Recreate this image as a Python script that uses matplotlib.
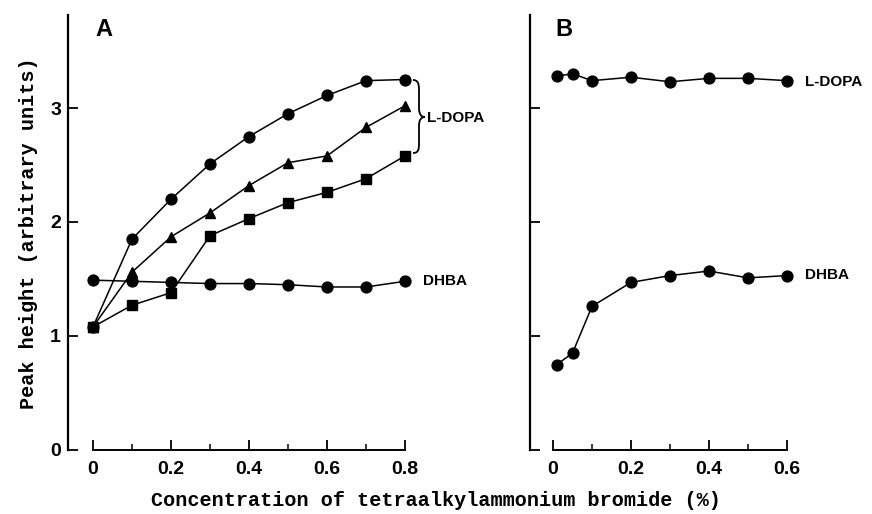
import matplotlib
matplotlib.use("Agg")
import matplotlib.pyplot as plt
from matplotlib.path import Path
from matplotlib.patches import PathPatch
from matplotlib.ticker import FixedLocator

# ---- data ----
conc_a = [0, 0.1, 0.2, 0.3, 0.4, 0.5, 0.6, 0.7, 0.8]
ldopa_circle_a = [1.08, 1.85, 2.20, 2.51, 2.75, 2.95, 3.11, 3.24, 3.25]
ldopa_triangle_a = [1.08, 1.56, 1.87, 2.08, 2.32, 2.52, 2.58, 2.83, 3.02]
ldopa_square_a = [1.08, 1.27, 1.38, 1.88, 2.03, 2.17, 2.26, 2.38, 2.58]
dhba_a = [1.49, 1.48, 1.47, 1.46, 1.46, 1.45, 1.43, 1.43, 1.48]

conc_b = [0.01, 0.05, 0.1, 0.2, 0.3, 0.4, 0.5, 0.6]
ldopa_b = [3.28, 3.30, 3.24, 3.27, 3.23, 3.26, 3.26, 3.24]
dhba_b = [0.75, 0.85, 1.26, 1.47, 1.53, 1.57, 1.51, 1.53]

xticks_a = [0, 0.2, 0.4, 0.6, 0.8]
xticklabels_a = ["0", "0.2", "0.4", "0.6", "0.8"]
xminor_a = [0.1, 0.3, 0.5, 0.7]
xticks_b = [0, 0.2, 0.4, 0.6]
xticklabels_b = ["0", "0.2", "0.4", "0.6"]
xminor_b = [0.1, 0.3, 0.5]
yticks = [0, 1, 2, 3]
yticklabels = ["0", "1", "2", "3"]

W, H = 872, 514
fig = plt.figure(figsize=(W / 100, H / 100), dpi=100)

PXU = 390.0   # px per x unit
PYU = 114.0   # px per y unit
y0px = 450
ytop = 3.82

def make_ax(left_px, zero_px, xmax):
    xmin = -(zero_px - left_px) / PXU
    width_px = (xmax - xmin) * PXU
    ax = fig.add_axes([left_px / W, (H - y0px) / H, width_px / W, ytop * PYU / H])
    ax.set_xlim(xmin, xmax)
    ax.set_ylim(0, ytop)
    ax.patch.set_alpha(0)
    for s in ["top", "right"]:
        ax.spines[s].set_visible(False)
    ax.spines["left"].set_linewidth(1.6)
    ax.spines["bottom"].set_linewidth(1.4)
    return ax

tickfont = dict(family="Liberation Sans", weight="bold", size=14)
lw = 1.1
ms_c = 7.8

axA = make_ax(68, 93, 0.85)
axB = make_ax(530, 553, 0.75)

# Panel A
axA.plot(conc_a, dhba_a, "-o", color="black", lw=lw, ms=ms_c, zorder=3)
axA.plot(conc_a, ldopa_square_a, "-s", color="black", lw=lw, ms=6.8, zorder=3)
axA.plot(conc_a, ldopa_triangle_a, "-^", color="black", lw=lw, ms=7.2, zorder=3)
axA.plot(conc_a, ldopa_circle_a, "-o", color="black", lw=lw, ms=ms_c, zorder=3)

# Panel B
axB.plot(conc_b, ldopa_b, "-o", color="black", lw=lw, ms=ms_c, zorder=3)
axB.plot(conc_b, dhba_b, "-o", color="black", lw=lw, ms=ms_c, zorder=3)

for ax, xt, xtl, xmin_t, xmax in [(axA, xticks_a, xticklabels_a, xminor_a, 0.8),
                                   (axB, xticks_b, xticklabels_b, xminor_b, 0.6)]:
    ax.spines["bottom"].set_bounds(0, xmax)
    ax.spines["left"].set_bounds(0, ytop)
    ax.set_xticks(xt)
    ax.set_xticklabels(xtl, fontdict=tickfont)
    ax.xaxis.set_minor_locator(FixedLocator(xmin_t))
    ax.set_yticks(yticks)
    ax.tick_params(axis="x", which="major", direction="in", length=7, width=1.3, pad=8)
    ax.tick_params(axis="x", which="minor", direction="in", length=4, width=1.1)
    ax.tick_params(axis="y", which="major", direction="in", length=7, width=1.3, pad=5)

axA.set_yticklabels(yticklabels, fontdict=tickfont)
axB.set_yticklabels([])

# curly brace in panel A (data coords)
def px2data(px, py):
    return ((px - 93) / PXU, (y0px - py) / PYU)

pts = [
    (413, 80),
    (418, 80), (419, 84), (419, 90),
    (419, 108),
    (419, 114), (421, 117), (425, 117),
    (421, 117), (419, 120), (419, 126),
    (419, 144),
    (419, 150), (418, 153), (413, 153),
]
codes = [Path.MOVETO,
         Path.CURVE4, Path.CURVE4, Path.CURVE4,
         Path.LINETO,
         Path.CURVE4, Path.CURVE4, Path.CURVE4,
         Path.CURVE4, Path.CURVE4, Path.CURVE4,
         Path.LINETO,
         Path.CURVE4, Path.CURVE4, Path.CURVE4]
verts = [px2data(*p) for p in pts]
axA.add_patch(PathPatch(Path(verts, codes), fill=False, lw=1.3, color="black", clip_on=False))

labfont = dict(family="Liberation Sans", weight="bold", size=11)
axA.text(*px2data(427, 118), "L-DOPA", ha="left", va="center", **labfont)
axA.text(*px2data(423, 281), "DHBA", ha="left", va="center", **labfont)

def px2dataB(px, py):
    return ((px - 553) / PXU, (y0px - py) / PYU)

axB.text(*px2dataB(805, 82), "L-DOPA", ha="left", va="center", **labfont)
axB.text(*px2dataB(805, 275), "DHBA", ha="left", va="center", **labfont)

# panel letters
fig.text(104 / W, 1 - 29 / H, "A", ha="center", va="center", family="Liberation Sans", weight="black", size=17)
fig.text(564 / W, 1 - 29 / H, "B", ha="center", va="center", family="Liberation Sans", weight="black", size=17)

# axis labels (monospace)
fig.text(436 / W, 1 - 500 / H, "Concentration of tetraalkylammonium bromide (%)",
         ha="center", va="center", family="Liberation Mono", weight="bold", size=14.5)
fig.text(29 / W, 1 - 233 / H, "Peak height (arbitrary units)", rotation=90,
         ha="center", va="center", family="Liberation Mono", weight="bold", size=14.5)

fig.savefig("out.png", dpi=100)
